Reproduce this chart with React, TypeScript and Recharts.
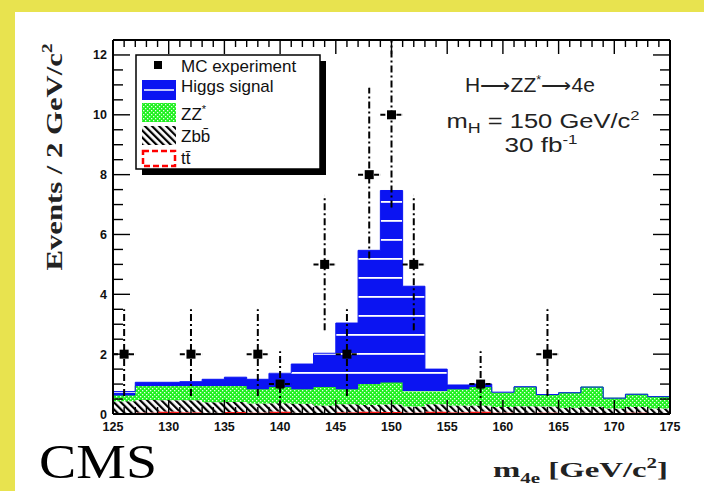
import React from 'react';
import { ComposedChart, Area, Scatter, XAxis, YAxis, ErrorBar, ReferenceLine, Legend } from 'recharts';

// ---- data ----
const binLowEdges = [125, 127, 129, 131, 133, 135, 137, 139, 141, 143, 145, 147, 149, 151, 153, 155, 157, 159, 161, 163, 165, 167, 169, 171, 173];
const histEnd = 175;
const higgsSignal = [0.13, 0.12, 0.12, 0.14, 0.22, 0.29, 0.33, 0.46, 0.84, 1.13, 2.21, 4.47, 6.42, 3.52, 0.75, 0.14, 0.1, 0.02, 0.01, 0.01, 0, 0, 0, 0, 0];
const zzStar = [0.19, 0.47, 0.48, 0.48, 0.55, 0.54, 0.48, 0.54, 0.49, 0.62, 0.5, 0.7, 0.73, 0.5, 0.42, 0.55, 0.62, 0.48, 0.64, 0.39, 0.5, 0.66, 0.35, 0.43, 0.4];
const zbbBkg = [0.4, 0.42, 0.38, 0.4, 0.35, 0.33, 0.3, 0.28, 0.3, 0.25, 0.27, 0.22, 0.25, 0.2, 0.25, 0.22, 0.2, 0.18, 0.22, 0.2, 0.18, 0.2, 0.15, 0.18, 0.15];
const ttBkg = [0.03, 0.05, 0.08, 0.06, 0.04, 0.07, 0.05, 0.08, 0.04, 0.03, 0.06, 0.08, 0.07, 0.05, 0.08, 0.06, 0.08, 0.05, 0.04, 0.05, 0.03, 0.04, 0.03, 0.05, 0.03];

const obsMass = [126, 132, 138, 140, 144, 146, 148, 150, 152, 158, 164];
const obsCount = [2, 2, 2, 1, 5, 2, 8, 10, 5, 1, 2];
const obsErrLow = [1.4, 1.4, 1.4, 0.8, 2.2, 1.4, 2.8, 3.1, 2.2, 0.8, 1.4];
const obsErrHigh = [1.5, 1.5, 1.5, 1.1, 2.3, 1.5, 2.9, 2.5, 2.3, 1.1, 1.5];
const obsBinHalfWidth = 1;

const xMajorTicks = [125, 130, 135, 140, 145, 150, 155, 160, 165, 170, 175];
const yMajorTicks = [0, 2, 4, 6, 8, 10, 12];
const legendLabels = ['MC experiment', 'Higgs signal', 'ZZ', 'Zbb\u0304', 'tt\u0304'];

// ---- derived tables ----
const histData = [...binLowEdges, histEnd].map((x, i) => {
  const j = Math.min(i, binLowEdges.length - 1);
  return { x, tt: ttBkg[j], zbb: zbbBkg[j], zz: zzStar[j], higgs: higgsSignal[j] };
});
const obsData = obsMass.map((m, i) => ({
  x: m,
  y: obsCount[i],
  ey: [obsErrLow[i], obsErrHigh[i]],
  ex: obsBinHalfWidth,
}));
const xAllTicks: number[] = [];
for (let v = 125; v <= 175; v++) xAllTicks.push(v);
const yAllTicks: number[] = [];
for (let k = 0; k <= 24; k++) yAllTicks.push(k * 0.5);

// ---- layout ----
const W = 704;
const H = 491;
const PLOT_TOP = 40;
const PLOT_RIGHT = 670;
const SANS = '"Liberation Sans", Arial, Helvetica, sans-serif';
const SERIF = '"Liberation Serif", "Times New Roman", serif';

function XTick(props: any) {
  const { x, y, payload } = props;
  const v = payload.value;
  const major = xMajorTicks.includes(v);
  const len = major ? 14 : 7;
  return (
    <g>
      <line x1={x} y1={y} x2={x} y2={y - len} stroke="#000" strokeWidth={1.4} />
      <line x1={x} y1={PLOT_TOP} x2={x} y2={PLOT_TOP + len} stroke="#000" strokeWidth={1.4} />
      {major && (
        <text x={x} y={y + 17} textAnchor="middle" fontFamily={SANS} fontWeight="bold" fontSize={12.5} fill="#111">
          {v}
        </text>
      )}
    </g>
  );
}

function YTick(props: any) {
  const { x, y, payload } = props;
  const v = payload.value;
  const major = yMajorTicks.includes(v);
  const len = major ? 17 : 10;
  return (
    <g>
      <line x1={x} y1={y} x2={x + len} y2={y} stroke="#000" strokeWidth={1.4} />
      <line x1={PLOT_RIGHT} y1={y} x2={PLOT_RIGHT - len} y2={y} stroke="#000" strokeWidth={1.4} />
      {major && (
        <text x={x - 6} y={y + 4.5} textAnchor="end" fontFamily={SANS} fontWeight="bold" fontSize={12.5} fill="#111">
          {v}
        </text>
      )}
    </g>
  );
}

function Square(props: any) {
  const { cx, cy } = props;
  return <rect x={cx - 4.5} y={cy - 4.5} width={9} height={9} fill="#000" />;
}

function LegendBox() {
  const t = { fontFamily: SANS, fontSize: 17, fill: '#111' } as any;
  return (
    <svg width={194} height={124} style={{ display: 'block', overflow: 'visible' }}>
      <rect x={7} y={7} width={184} height={114} fill="#000" />
      <rect x={1} y={1} width={184} height={114} fill="#fff" stroke="#000" strokeWidth={1.5} />
      <rect x={19} y={7} width={8} height={8} fill="#000" />
      <text x={46} y={18} {...t}>{legendLabels[0]}</text>
      <rect x={7} y={26} width={34} height={20} fill="#0b14f2" />
      <line x1={9} y1={36} x2={39} y2={36} stroke="#fff" strokeWidth={1.5} />
      <text x={46} y={38} {...t}>{legendLabels[1]}</text>
      <rect x={7} y={49} width={34} height={19} fill="url(#zzPat)" />
      <text x={46} y={66} {...t}>{legendLabels[2]}<tspan dy={-7} fontSize={11}>*</tspan></text>
      <rect x={7} y={72} width={34} height={19} fill="url(#zbbPat)" />
      <text x={46} y={88} {...t}>{legendLabels[3]}</text>
      <rect x={8} y={97} width={32} height={15} fill="#fff" stroke="#f00" strokeWidth={2.5} strokeDasharray="6 3" />
      <text x={46} y={110} {...t}>{legendLabels[4]}</text>
    </svg>
  );
}

export default function App() {
  return (
    <div style={{ position: 'absolute', left: 0, top: 0, width: W, height: H, background: '#fff', overflow: 'hidden' }}>
      <div style={{ position: 'absolute', left: 0, top: 0, width: 15, height: H, background: '#e8e34f' }} />
      <div style={{ position: 'absolute', left: 0, top: 0, width: W, height: 12, background: '#e8e34f' }} />
      <svg width={0} height={0} style={{ position: 'absolute' }}>
        <defs>
          <pattern id="higgsPat" patternUnits="userSpaceOnUse" width={8} height={19} y={3}>
            <rect width={8} height={19} fill="#0b14f2" />
            <rect y={8} width={8} height={1.8} fill="#fff" />
          </pattern>
          <pattern id="zzPat" patternUnits="userSpaceOnUse" width={4} height={4}>
            <rect width={4} height={4} fill="#1ef01e" />
            <rect x={0} y={0} width={1.3} height={1.3} fill="#e8ffe8" />
            <rect x={2} y={2} width={1.3} height={1.3} fill="#e8ffe8" />
          </pattern>
          <pattern id="zbbPat" patternUnits="userSpaceOnUse" width={5} height={5} patternTransform="rotate(-45)">
            <rect width={5} height={5} fill="#fff" />
            <rect width={2.2} height={5} fill="#000" />
          </pattern>
        </defs>
      </svg>
      <div style={{ position: 'absolute', left: 0, top: 0 }}>
        <ComposedChart width={W} height={H} data={histData} margin={{ top: 40, right: 34, bottom: 47, left: 83 }}>
          <XAxis
            dataKey="x"
            type="number"
            domain={[125, 175]}
            ticks={xAllTicks}
            interval={0}
            tickSize={0}
            tickMargin={0}
            tickLine={false}
            tick={<XTick />}
            axisLine={{ stroke: '#000', strokeWidth: 2 }}
            height={30}
            allowDataOverflow
          />
          <YAxis
            type="number"
            domain={[0, 12.5]}
            ticks={yAllTicks}
            interval={0}
            tickSize={0}
            tickMargin={0}
            tickLine={false}
            tick={<YTick />}
            axisLine={{ stroke: '#000', strokeWidth: 2 }}
            width={30}
            allowDataOverflow
          />
          <Area dataKey="tt" stackId="s" type="stepAfter" fill="#ff1a1a" fillOpacity={1} stroke="none" isAnimationActive={false} />
          <Area dataKey="zbb" stackId="s" type="stepAfter" fill="url(#zbbPat)" fillOpacity={1} stroke="none" isAnimationActive={false} />
          <Area dataKey="zz" stackId="s" type="stepAfter" fill="url(#zzPat)" fillOpacity={1} stroke="#22e022" strokeWidth={1} isAnimationActive={false} />
          <Area dataKey="higgs" stackId="s" type="stepAfter" fill="url(#higgsPat)" fillOpacity={1} stroke="#0b14f2" strokeWidth={1} isAnimationActive={false} />
          <ReferenceLine y={12.5} stroke="#000" strokeWidth={2} />
          <ReferenceLine x={175} stroke="#000" strokeWidth={2} />
          <Scatter data={obsData} dataKey="y" shape={<Square />} isAnimationActive={false}>
            <ErrorBar dataKey="ey" direction="y" width={0} stroke="#000" strokeWidth={2} strokeDasharray="7 3 2 3" isAnimationActive={false} />
            <ErrorBar dataKey="ex" direction="x" width={0} stroke="#000" strokeWidth={2} strokeDasharray="5 3" isAnimationActive={false} />
          </Scatter>
          <Legend
            layout="horizontal"
            verticalAlign="middle"
            align="center"
            wrapperStyle={{ position: 'absolute', left: 135, top: 54, width: 194, height: 124 }}
            content={() => <LegendBox />}
          />
          <g>
            <text x={530} y={92} textAnchor="middle" fontFamily={SANS} fontSize={20} fill="#222" textLength={130} lengthAdjust="spacingAndGlyphs">
              H{'\u27F6'}ZZ<tspan dy={-8} fontSize={12}>*</tspan><tspan dy={8}>{'\u27F6'}4e</tspan>
            </text>
            <text x={543} y={128} textAnchor="middle" fontFamily={SANS} fontSize={20} fill="#222" textLength={193} lengthAdjust="spacingAndGlyphs">
              m<tspan dy={5} fontSize={14}>H</tspan><tspan dy={-5}> = 150 GeV/c</tspan><tspan dy={-8} fontSize={13}>2</tspan>
            </text>
            <text x={541} y={152} textAnchor="middle" fontFamily={SANS} fontSize={20} fill="#222" textLength={73} lengthAdjust="spacingAndGlyphs">
              30 fb<tspan dy={-8} fontSize={13}>-1</tspan>
            </text>
            <text x={62} y={157} transform="rotate(-90 62 157)" textAnchor="middle" fontFamily={SERIF} fontWeight="bold" fontSize={24} fill="#222" textLength={227} lengthAdjust="spacingAndGlyphs">
              Events / 2 GeV/c<tspan dy={-10} fontSize={15}>2</tspan>
            </text>
            <text x={39} y={478} fontFamily={SERIF} fontSize={49} fill="#000" textLength={118} lengthAdjust="spacingAndGlyphs">
              CMS
            </text>
            <text x={668} y={477} textAnchor="end" fontFamily={SERIF} fontWeight="bold" fontSize={22} fill="#222" textLength={175} lengthAdjust="spacingAndGlyphs">
              m<tspan dy={6} fontSize={14}>4e</tspan><tspan dy={-6}> [GeV/c</tspan><tspan dy={-9} fontSize={14}>2</tspan><tspan dy={9}>]</tspan>
            </text>
          </g>
        </ComposedChart>
      </div>
    </div>
  );
}
